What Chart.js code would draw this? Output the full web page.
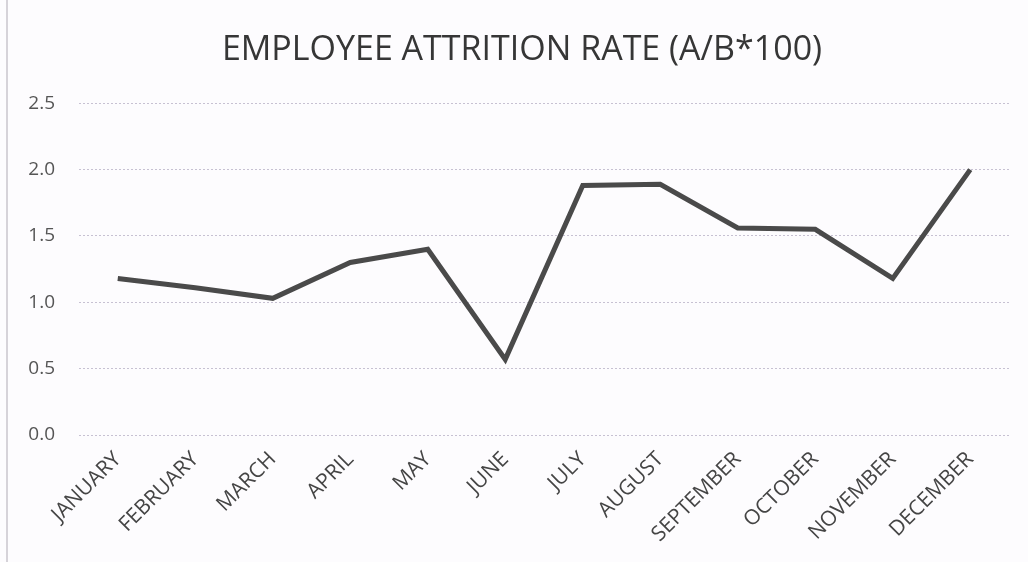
<!DOCTYPE html>
<html>
<head>
<meta charset="utf-8">
<script src="https://cdn.jsdelivr.net/npm/chart.js@4.4.1/dist/chart.umd.min.js"></script>
<style>
  html, body { margin: 0; padding: 0; background: #fdfcfe; }
  #wrap { width: 1028px; height: 562px; position: relative; }
</style>
</head>
<body>
<div id="wrap"><canvas id="attritionChart" width="1028" height="562"></canvas></div>
<script>
var months = ['JANUARY', 'FEBRUARY', 'MARCH', 'APRIL', 'MAY', 'JUNE',
  'JULY', 'AUGUST', 'SEPTEMBER', 'OCTOBER', 'NOVEMBER', 'DECEMBER'];
var attritionRate = [1.18, 1.11, 1.03, 1.30, 1.40, 0.57, 1.88, 1.89, 1.56, 1.55, 1.18, 2.0];
var yTicks = [0.0, 0.5, 1.0, 1.5, 2.0, 2.5];

document.addEventListener('DOMContentLoaded', function () {
  Chart.defaults.font.family = '"Open Sans", "Noto Sans", Arial, sans-serif';
  Chart.defaults.color = '#4d4d4d';

  // paper background + left frame edge of the scanned chart
  var framePlugin = {
    id: 'frame',
    beforeDraw: function (chart) {
      var ctx = chart.ctx;
      ctx.save();
      ctx.fillStyle = '#fdfcfe';
      ctx.fillRect(0, 0, chart.width, chart.height);
      ctx.strokeStyle = '#c9c6cc';
      ctx.lineWidth = 1.5;
      ctx.beginPath();
      ctx.moveTo(7, 0);
      ctx.lineTo(7, chart.height);
      ctx.stroke();
      ctx.restore();
    }
  };

  new Chart(document.getElementById('attritionChart'), {
    type: 'line',
    data: {
      labels: months,
      datasets: [{
        label: 'Attrition rate',
        data: attritionRate,
        borderColor: '#4a4a4a',
        borderWidth: 5,
        pointRadius: 0,
        tension: 0,
        fill: false,
        borderJoinStyle: 'miter'
      }]
    },
    options: {
      responsive: false,
      animation: false,
      layout: { padding: { left: 16, right: 0, top: 0, bottom: 0 } },
      plugins: {
        legend: { display: false },
        tooltip: { enabled: false },
        title: {
          display: true,
          text: 'EMPLOYEE ATTRITION RATE (A/B*100)',
          color: '#363636',
          font: { size: 34, weight: 'normal' },
          padding: { top: 30, bottom: 32.5 }
        }
      },
      scales: {
        x: {
          offset: true,
          grid: { display: false, drawTicks: false },
          border: { display: false },
          ticks: {
            autoSkip: false,
            minRotation: 45,
            maxRotation: 45,
            padding: 12,
            color: '#454545',
            font: { size: 21 }
          },
          afterFit: function (scale) { scale.height = 127; }
        },
        y: {
          min: 0,
          max: 2.5,
          afterBuildTicks: function (scale) {
            scale.ticks = yTicks.map(function (v) { return { value: v }; });
          },
          grid: {
            color: '#c7c1d2',
            lineWidth: 1,
            drawTicks: false
          },
          border: { display: false, dash: [2, 2] },
          ticks: {
            padding: 24,
            color: '#555555',
            font: { size: 19 },
            callback: function (v) { return Number(v).toFixed(1); }
          },
          afterFit: function (scale) { scale.width = 63; }
        },
        yRight: {
          position: 'right',
          display: true,
          grid: { display: false, drawTicks: false },
          border: { display: false },
          ticks: { display: false },
          afterFit: function (scale) { scale.width = 19; }
        }
      }
    },
    plugins: [framePlugin]
  });
});
</script>
</body>
</html>
